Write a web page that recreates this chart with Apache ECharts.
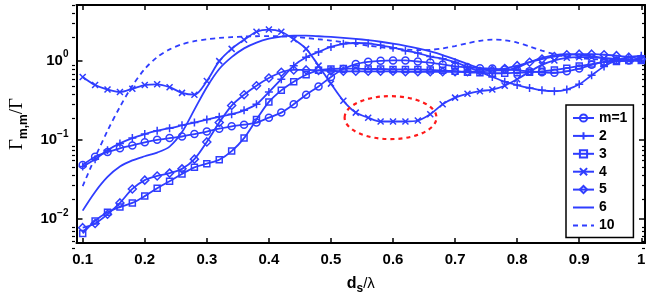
<!DOCTYPE html>
<html><head><meta charset="utf-8">
<script src="https://cdn.jsdelivr.net/npm/echarts@6.0.0/dist/echarts.min.js"></script>
<style>html,body{margin:0;padding:0;background:#fff}#c{width:654px;height:300px}</style>
</head><body><div id="c"></div><script>
// ---- data ----
const xs = [0.10,0.12,0.14,0.16,0.18,0.20,0.22,0.24,0.26,0.28,0.30,0.32,0.34,0.36,0.38,0.40,0.42,0.44,0.46,0.48,0.50,0.52,0.54,0.56,0.58,0.60,0.62,0.64,0.66,0.68,0.70,0.72,0.74,0.76,0.78,0.80,0.82,0.84,0.86,0.88,0.90,0.92,0.94,0.96,0.98,1.00];
const m1 = [0.048,0.061,0.070,0.078,0.085,0.093,0.100,0.105,0.110,0.118,0.127,0.138,0.148,0.155,0.165,0.19,0.22,0.28,0.37,0.47,0.62,0.78,0.90,0.96,0.99,1.0,1.0,0.97,0.94,0.89,0.84,0.82,0.80,0.79,0.77,0.75,0.73,0.71,0.70,0.73,0.79,0.88,0.96,1.0,1.0,1.03];
const m2 = [0.046,0.057,0.074,0.09,0.105,0.118,0.13,0.14,0.152,0.165,0.18,0.195,0.21,0.235,0.28,0.40,0.58,0.86,1.1,1.28,1.48,1.62,1.66,1.64,1.55,1.45,1.33,1.24,1.12,1.05,0.95,0.83,0.72,0.62,0.54,0.49,0.45,0.42,0.41,0.43,0.50,0.65,0.84,1.0,1.1,1.15];
const m3 = [0.0066,0.0095,0.0122,0.0142,0.016,0.0195,0.0245,0.030,0.037,0.045,0.050,0.056,0.072,0.105,0.18,0.30,0.42,0.54,0.66,0.75,0.78,0.79,0.79,0.78,0.78,0.77,0.77,0.77,0.76,0.75,0.73,0.71,0.70,0.69,0.69,0.70,0.71,0.73,0.76,0.80,0.85,0.90,0.95,0.97,1.0,1.0];
const m4 = [0.62,0.49,0.43,0.40,0.44,0.49,0.50,0.46,0.39,0.37,0.55,0.98,1.4,1.82,2.3,2.45,2.3,1.85,1.4,0.86,0.51,0.31,0.22,0.19,0.17,0.17,0.17,0.175,0.21,0.28,0.34,0.38,0.41,0.43,0.48,0.58,0.72,0.88,1.0,1.08,1.1,1.1,1.06,1.02,1.0,1.04];
const m5 = [0.0078,0.0088,0.0115,0.016,0.024,0.031,0.035,0.038,0.043,0.057,0.094,0.165,0.27,0.37,0.48,0.60,0.71,0.76,0.76,0.75,0.74,0.73,0.73,0.73,0.73,0.73,0.72,0.72,0.72,0.72,0.72,0.72,0.73,0.75,0.79,0.86,0.95,1.04,1.12,1.18,1.2,1.2,1.18,1.15,1.1,1.05];
const m6 = [0.0128,0.022,0.034,0.046,0.055,0.062,0.069,0.082,0.125,0.24,0.46,0.78,1.1,1.42,1.68,1.88,2.0,2.05,2.05,2.02,1.98,1.93,1.87,1.8,1.72,1.63,1.53,1.42,1.3,1.17,1.03,0.9,0.8,0.75,0.75,0.82,0.95,1.08,1.17,1.2,1.18,1.13,1.08,1.04,1.0,0.98];
const m10 = [0.026,0.06,0.13,0.26,0.48,0.78,1.1,1.38,1.6,1.75,1.85,1.92,1.97,2.0,2.02,2.03,2.02,1.98,1.92,1.85,1.78,1.7,1.62,1.54,1.47,1.41,1.37,1.35,1.36,1.42,1.52,1.65,1.77,1.83,1.8,1.68,1.5,1.33,1.2,1.12,1.07,1.04,1.02,1.0,0.98,0.96];
const seriesNames = ['m=1','2','3','4','5','6','10'];
const xTickVals = [0.1,0.2,0.3,0.4,0.5,0.6,0.7,0.8,0.9,1.0];
const xTickLabels = ['0.1','0.2','0.3','0.4','0.5','0.6','0.7','0.8','0.9','1'];
const yTickVals = [0.01,0.1,1];
const yTickExps = ['\u22122','\u22121','0'];
// annotation ellipse (data-space bounds)
const ellipseX = [0.522, 0.670];
const ellipseY = [0.102, 0.355];

// ---- style ----
const blue = '#2f3dff';
const FONT = 'Liberation Sans';
const yMinor = [];
[0.001,0.01,0.1,1].forEach(d=>{for(let k=2;k<=9;k++){const v=d*k; if(v>=0.005&&v<=5.0001) yMinor.push(v);}});

function mk(name, vals, symbol, size, dashed){
  return {
    name, type:'line', xAxisIndex:0, yAxisIndex:0,
    data: xs.map((x,i)=>[x, vals[i]]),
    smooth: 0.3,
    symbol: symbol || 'none', symbolSize: size, showSymbol: !!symbol,
    lineStyle:{color:blue, width:1.8, type: dashed ? [5,4] : 'solid'},
    itemStyle:{color:'rgba(255,255,255,0)', borderColor:blue, borderWidth:1.5},
    emphasis:{disabled:true}, animation:false, z:3
  };
}
const plusPath = 'path://M5,0L5,10M0,5L10,5';
const xPath = 'path://M0,0L10,10M10,0L0,10';

const chart = echarts.init(document.getElementById('c'), null, {renderer:'canvas'});
const gridRect = {left:72, right:9, top:5, bottom:52};
const axisLineS = {show:true, lineStyle:{color:'#000', width:2}};
const xFmt = v => { const i = xTickVals.findIndex(t=>Math.abs(t-v)<1e-6); return i>=0 ? xTickLabels[i] : ''; };
const yFmt = v => { const i = yTickVals.findIndex(t=>Math.abs(Math.log10(t)-Math.log10(v))<1e-6); return i>=0 ? '{b|10}{s|'+yTickExps[i]+'}' : ''; };
const hidden = {color:'rgba(0,0,0,0)', borderColor:'rgba(0,0,0,0)', borderWidth:0};

chart.setOption({
  animation:false,
  textStyle:{fontFamily:FONT},
  grid:[Object.assign({}, gridRect), Object.assign({}, gridRect)],
  xAxis:[
    {gridIndex:0, type:'value', position:'bottom', min:0.09, max:1.006,
     axisLine:axisLineS, splitLine:{show:false},
     axisTick:{show:true, inside:true, length:5, customValues:xTickVals, lineStyle:{color:'#000', width:1.5}},
     axisLabel:{show:true, customValues:xTickVals, formatter:xFmt, color:'#000', fontSize:15, fontWeight:'bold', margin:9, fontFamily:FONT},
     name:'{d|d}{sub|s}{l|/\u03bb}', nameLocation:'middle', nameGap:30,
     nameTextStyle:{rich:{
       d:{fontSize:16, fontWeight:'bold', color:'#000', lineHeight:22, fontFamily:FONT},
       sub:{fontSize:12, fontWeight:'bold', color:'#000', lineHeight:12, verticalAlign:'bottom', fontFamily:FONT},
       l:{fontSize:15, color:'#000', lineHeight:22, fontFamily:FONT}}}},
    {gridIndex:0, type:'value', position:'top', min:0.09, max:1.006,
     axisLine:axisLineS, splitLine:{show:false},
     axisTick:{show:true, inside:true, length:5, customValues:xTickVals, lineStyle:{color:'#000', width:1.5}},
     axisLabel:{show:false}},
    {gridIndex:1, type:'value', min:0.09, max:1.006, show:false}
  ],
  yAxis:[
    {gridIndex:0, type:'log', logBase:10, position:'left', min:0.005, max:5,
     axisLine:axisLineS, splitLine:{show:false},
     axisTick:{show:true, inside:true, length:6, customValues:yTickVals, lineStyle:{color:'#000', width:1.5}},
     axisLabel:{show:true, customValues:yTickVals, formatter:yFmt, margin:8,
       rich:{b:{fontSize:15, fontWeight:'bold', color:'#000', lineHeight:22, fontFamily:FONT},
             s:{fontSize:10, fontWeight:'bold', color:'#000', lineHeight:11, verticalAlign:'top', fontFamily:FONT}}},
     name:'{g|\u0393}{sub|m,m}{g|/\u0393}', nameLocation:'middle', nameGap:38, nameRotate:90,
     nameTextStyle:{rich:{
       g:{fontSize:19, color:'#000', lineHeight:24, fontFamily:'Liberation Serif'},
       sub:{fontSize:12, fontWeight:'bold', color:'#000', lineHeight:12, verticalAlign:'bottom', fontFamily:FONT}}}},
    {gridIndex:0, type:'log', logBase:10, position:'right', min:0.005, max:5,
     axisLine:axisLineS, splitLine:{show:false},
     axisTick:{show:true, inside:true, length:6, customValues:yTickVals, lineStyle:{color:'#000', width:1.5}},
     axisLabel:{show:false}},
    {gridIndex:1, type:'log', logBase:10, position:'left', min:0.005, max:5,
     axisLine:{show:false}, splitLine:{show:false},
     axisTick:{show:true, inside:true, length:3, customValues:yMinor, lineStyle:{color:'#000', width:1.2}},
     axisLabel:{show:false}},
    {gridIndex:1, type:'log', logBase:10, position:'right', min:0.005, max:5,
     axisLine:{show:false}, splitLine:{show:false},
     axisTick:{show:true, inside:true, length:3, customValues:yMinor, lineStyle:{color:'#000', width:1.2}},
     axisLabel:{show:false}}
  ],
  legend:{orient:'vertical', left:566, top:105, itemWidth:21, itemHeight:9, itemGap:3.9,
    padding:[6,6,5,6], borderColor:'#000', borderWidth:1.5, backgroundColor:'#fff', selectedMode:false,
    textStyle:{fontSize:14, fontWeight:'bold', color:'#000', lineHeight:14, fontFamily:FONT},
    data:[seriesNames[0], seriesNames[1], seriesNames[2], seriesNames[3], seriesNames[4],
          {name:seriesNames[5], itemStyle:hidden}, {name:seriesNames[6], itemStyle:hidden}], z:10},
  series:[
    mk(seriesNames[0], m1, 'circle', 7),
    mk(seriesNames[1], m2, plusPath, 8),
    mk(seriesNames[2], m3, 'rect', 6),
    mk(seriesNames[3], m4, xPath, 6),
    mk(seriesNames[4], m5, 'diamond', 8),
    mk(seriesNames[5], m6, null, 0),
    mk(seriesNames[6], m10, null, 0, true)
  ]
});

const p0 = chart.convertToPixel({gridIndex:0}, [ellipseX[0], ellipseY[1]]);
const p1 = chart.convertToPixel({gridIndex:0}, [ellipseX[1], ellipseY[0]]);
chart.setOption({graphic:[{type:'ellipse', z:5,
  shape:{cx:(p0[0]+p1[0])/2, cy:(p0[1]+p1[1])/2, rx:Math.abs(p1[0]-p0[0])/2, ry:Math.abs(p1[1]-p0[1])/2},
  style:{fill:'none', stroke:'#ff1a1a', lineWidth:2.2, lineDash:[4,4]}}]});
</script></body></html>
